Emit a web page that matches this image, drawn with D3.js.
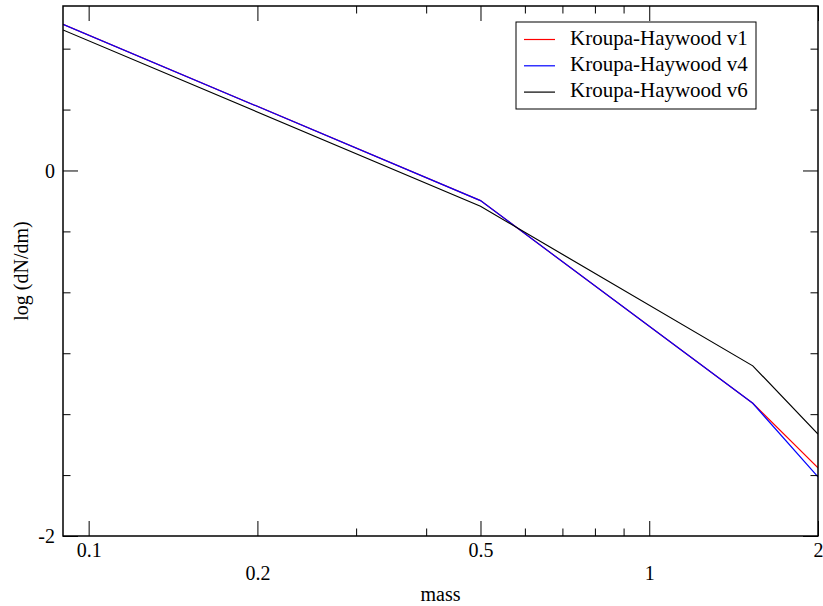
<!DOCTYPE html>
<html><head><meta charset="utf-8">
<script src="https://cdn.jsdelivr.net/npm/d3@7"></script>
<style>
body{margin:0;background:#fff;}
text{font-family:"Liberation Serif","Times New Roman",serif;fill:#000;}
</style></head>
<body><svg id="c" width="823" height="606"></svg>
<script>
const mass = [0.09, 0.5, 1.53, 2];
const v1 = [0.80, -0.165, -1.274, -1.627];
const v4 = [0.80, -0.165, -1.274, -1.677];
const v6 = [0.769, -0.196, -1.069, -1.442];
const seriesNames = ["Kroupa-Haywood v1", "Kroupa-Haywood v4", "Kroupa-Haywood v6"];
const seriesColors = ["#ff0000", "#0000ff", "#000000"];
const xMajor = [0.1, 0.2, 0.5, 1, 2];
const xMinor = [0.3, 0.4, 0.6, 0.7, 0.8, 0.9];
const yMajor = [0, -2];
const yMinor = [2/3, 1/3, -1/3, -2/3, -1, -4/3, -5/3];

const W = 823, H = 606;
const m = {l:63, r:5, t:6, b:70};
const svg = d3.select("#c");
const x = d3.scaleLog().domain([0.09, 2]).range([m.l, W - m.r]);
const y = d3.scaleLinear().domain([-2, 0.9]).range([H - m.b, m.t]);

svg.append("clipPath").attr("id","clp").append("rect")
  .attr("x", m.l).attr("y", m.t).attr("width", W-m.l-m.r).attr("height", H-m.t-m.b);

// lines
const data = [v1, v4, v6];
const line = d3.line().x(d => x(d[0])).y(d => y(d[1]));
data.forEach((vals, i) => {
  svg.append("path").attr("clip-path","url(#clp)")
    .datum(mass.map((mm, j) => [mm, vals[j]]))
    .attr("d", line).attr("fill","none")
    .attr("stroke", seriesColors[i]).attr("stroke-width", 1.2);
});

// axes
const fmt = d => String(d);
function styleAx(g){ g.select(".domain").remove(); g.selectAll("line").attr("stroke","#000").attr("stroke-width",1); }
const bottom = svg.append("g").attr("transform",`translate(0,${H-m.b})`)
  .call(d3.axisBottom(x).tickValues(xMajor).tickSizeInner(-15).tickSizeOuter(0).tickFormat(fmt));
bottom.call(styleAx);
bottom.selectAll("text").attr("font-size", 20).attr("dy", null)
  .attr("y", (d,i) => i % 2 === 0 ? 21 : 44);
svg.append("g").attr("transform",`translate(0,${H-m.b})`)
  .call(d3.axisBottom(x).tickValues(xMinor).tickSizeInner(-7.5).tickSizeOuter(0).tickFormat(""))
  .call(styleAx);
svg.append("g").attr("transform",`translate(0,${m.t})`)
  .call(d3.axisTop(x).tickValues(xMajor).tickSizeInner(-15).tickSizeOuter(0).tickFormat(""))
  .call(styleAx);
svg.append("g").attr("transform",`translate(0,${m.t})`)
  .call(d3.axisTop(x).tickValues(xMinor).tickSizeInner(-7.5).tickSizeOuter(0).tickFormat(""))
  .call(styleAx);

const left = svg.append("g").attr("transform",`translate(${m.l},0)`)
  .call(d3.axisLeft(y).tickValues(yMajor).tickSizeInner(-15).tickSizeOuter(0).tickPadding(8).tickFormat(fmt));
left.call(styleAx);
left.selectAll("text").attr("font-size", 20).attr("dy","0.33em");
svg.append("g").attr("transform",`translate(${m.l},0)`)
  .call(d3.axisLeft(y).tickValues(yMinor).tickSizeInner(-7.5).tickSizeOuter(0).tickFormat(""))
  .call(styleAx);
svg.append("g").attr("transform",`translate(${W-m.r},0)`)
  .call(d3.axisRight(y).tickValues(yMajor).tickSizeInner(-15).tickSizeOuter(0).tickFormat(""))
  .call(styleAx);
svg.append("g").attr("transform",`translate(${W-m.r},0)`)
  .call(d3.axisRight(y).tickValues(yMinor).tickSizeInner(-7.5).tickSizeOuter(0).tickFormat(""))
  .call(styleAx);

// frame
svg.append("rect").attr("x", m.l).attr("y", m.t).attr("width", W-m.l-m.r).attr("height", H-m.t-m.b)
  .attr("fill","none").attr("stroke","#000").attr("stroke-width",1.5);

// axis titles
svg.append("text").attr("x", (m.l + W - m.r)/2).attr("y", 601).attr("text-anchor","middle")
  .attr("font-size", 20).text("mass");
svg.append("text").attr("transform",`translate(28,${(m.t + H - m.b)/2}) rotate(-90)`)
  .attr("text-anchor","middle").attr("font-size", 20).text("log (dN/dm)");

// legend
const lg = svg.append("g");
lg.append("rect").attr("x",516).attr("y",22).attr("width",240).attr("height",87)
  .attr("fill","#fff").attr("stroke","#000").attr("stroke-width",1);
seriesNames.forEach((n,i) => {
  const yy = 39.5 + i*26.3;
  lg.append("line").attr("x1",524).attr("x2",555).attr("y1",yy).attr("y2",yy)
    .attr("stroke", seriesColors[i]).attr("stroke-width",1.2);
  lg.append("text").attr("x",570).attr("y",yy+5).attr("font-size",21).text(n);
});
</script></body></html>
